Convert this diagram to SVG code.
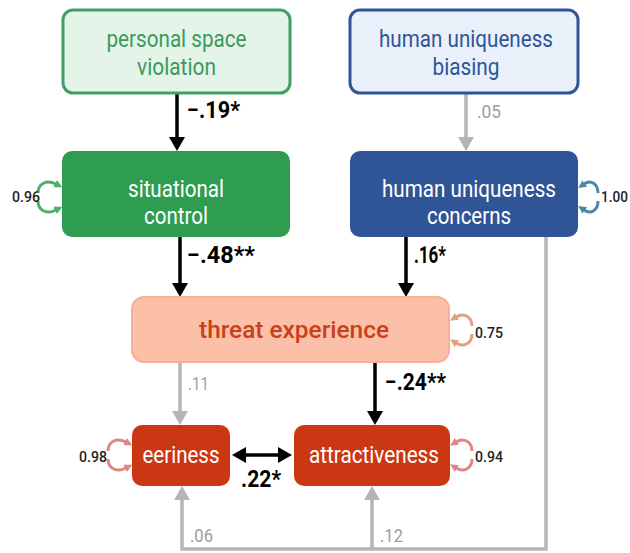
<svg xmlns="http://www.w3.org/2000/svg" width="630" height="553" viewBox="0 0 630 553">
<style>
.t{font-family:Roboto,"Liberation Sans",sans-serif;font-size:23px;text-anchor:middle}
.w{fill:#fff}
.lb{font-family:Roboto,"Liberation Sans",sans-serif;font-size:23px;font-weight:bold;fill:#000}
.lg{font-family:Roboto,"Liberation Sans",sans-serif;font-size:19px;fill:#9e9e9e}
.v{font-family:Roboto,"Liberation Sans",sans-serif;font-size:15px;font-weight:500;fill:#222}
.k{fill:none;stroke:#000;stroke-width:3.5}
.g{fill:none;stroke:#b5b5b5;stroke-width:3.5}
.lp{fill:none;stroke-width:3}
</style>
<defs>
<marker id="ak" viewBox="0 0 14 16" refX="0" refY="8" markerWidth="14" markerHeight="16" markerUnits="userSpaceOnUse" orient="auto-start-reverse"><path d="M0,0 L14,8 L0,16 z" fill="#000"/></marker>
<marker id="ag" viewBox="0 0 14 16" refX="0" refY="8" markerWidth="14" markerHeight="16" markerUnits="userSpaceOnUse" orient="auto"><path d="M0,0 L14,8 L0,16 z" fill="#b5b5b5"/></marker>
<marker id="mgr" viewBox="0 0 8 8" refX="1" refY="4" markerWidth="8" markerHeight="8" markerUnits="userSpaceOnUse" orient="auto"><path d="M0,0 L8,4 L0,8 z" fill="#4caf6a"/></marker>
<marker id="mbl" viewBox="0 0 8 8" refX="1" refY="4" markerWidth="8" markerHeight="8" markerUnits="userSpaceOnUse" orient="auto"><path d="M0,0 L8,4 L0,8 z" fill="#4a87a8"/></marker>
<marker id="msa" viewBox="0 0 8 8" refX="1" refY="4" markerWidth="8" markerHeight="8" markerUnits="userSpaceOnUse" orient="auto"><path d="M0,0 L8,4 L0,8 z" fill="#e2a07e"/></marker>
<marker id="mpk" viewBox="0 0 8 8" refX="1" refY="4" markerWidth="8" markerHeight="8" markerUnits="userSpaceOnUse" orient="auto"><path d="M0,0 L8,4 L0,8 z" fill="#df8684"/></marker>
</defs>

<g id="connectors">
<path class="k" d="M177,93 V137" marker-end="url(#ak)"/>
<path class="g" d="M466,93 V137" marker-end="url(#ag)"/>
<path class="k" d="M180,237 V283" marker-end="url(#ak)"/>
<path class="k" d="M406,237 V283" marker-end="url(#ak)"/>
<path class="g" d="M180,362 V411" marker-end="url(#ag)"/>
<path class="k" d="M375,362 V411" marker-end="url(#ak)"/>
<path class="k" d="M246,455 H278" marker-start="url(#ak)" marker-end="url(#ak)"/>
<path class="g" d="M546,237 V549 H182 V500" marker-end="url(#ag)"/>
<path class="g" d="M372,549 V500" marker-end="url(#ag)"/>
<text class="lb" x="187" y="118" textLength="53" lengthAdjust="spacingAndGlyphs">−.19*</text>
<text class="lg" x="477" y="118" textLength="24" lengthAdjust="spacingAndGlyphs">.05</text>
<text class="lb" x="187" y="263" textLength="68" lengthAdjust="spacingAndGlyphs">−.48**</text>
<text class="lb" x="414" y="263" textLength="32" lengthAdjust="spacingAndGlyphs">.16*</text>
<text class="lg" x="188" y="390" textLength="21" lengthAdjust="spacingAndGlyphs">.11</text>
<text class="lb" x="385" y="390" textLength="61" lengthAdjust="spacingAndGlyphs">−.24**</text>
<text class="lb" x="241" y="487" textLength="40" lengthAdjust="spacingAndGlyphs">.22*</text>
<text class="lg" x="190" y="542" textLength="23" lengthAdjust="spacingAndGlyphs">.06</text>
<text class="lg" x="380" y="542" textLength="23" lengthAdjust="spacingAndGlyphs">.12</text>
</g>

<g id="personal-space-violation">
<rect x="63" y="10" width="227" height="83" rx="10" fill="#e5f4e9" stroke="#3fa061" stroke-width="3"/>
<text class="t" x="176.5" y="47" fill="#3a9a5a" textLength="140" lengthAdjust="spacingAndGlyphs">personal space</text>
<text class="t" x="176.5" y="75" fill="#3a9a5a" textLength="79" lengthAdjust="spacingAndGlyphs">violation</text>
</g>

<g id="human-uniqueness-biasing">
<rect x="350" y="10" width="228" height="83" rx="10" fill="#eaf0fa" stroke="#2f5597" stroke-width="3"/>
<text class="t" x="466" y="47" fill="#2f5597" textLength="174" lengthAdjust="spacingAndGlyphs">human uniqueness</text>
<text class="t" x="466" y="75" fill="#2f5597" textLength="67" lengthAdjust="spacingAndGlyphs">biasing</text>
</g>

<g id="situational-control">
<rect x="62" y="151" width="228" height="86" rx="10" fill="#2f9d50"/>
<text class="t w" x="176" y="197" textLength="96" lengthAdjust="spacingAndGlyphs">situational</text>
<text class="t w" x="176" y="224" textLength="64" lengthAdjust="spacingAndGlyphs">control</text>
<path class="lp" stroke="#4caf6a" d="M38,193 C38,184 46,179 56,184" marker-end="url(#mgr)"/>
<path class="lp" stroke="#4caf6a" d="M38,201 C38,210 46,215 56,210" marker-end="url(#mgr)"/>
<text class="v" x="12" y="202" textLength="28" lengthAdjust="spacingAndGlyphs">0.96</text>
</g>

<g id="human-uniqueness-concerns">
<rect x="350" y="151" width="228" height="86" rx="10" fill="#2f5597"/>
<text class="t w" x="469" y="197" textLength="174" lengthAdjust="spacingAndGlyphs">human uniqueness</text>
<text class="t w" x="469" y="224" textLength="84" lengthAdjust="spacingAndGlyphs">concerns</text>
<path class="lp" stroke="#4a87a8" d="M598,193 C598,184 591,179 584,184" marker-end="url(#mbl)"/>
<path class="lp" stroke="#4a87a8" d="M598,201 C598,210 591,215 584,210" marker-end="url(#mbl)"/>
<text class="v" x="601" y="202" textLength="27" lengthAdjust="spacingAndGlyphs">1.00</text>
</g>

<g id="threat-experience">
<rect x="132" y="297" width="317" height="65" rx="12" fill="#fbc0a7" stroke="#f6b096" stroke-width="2"/>
<text class="t" x="294" y="338" fill="#c8401c" font-size="26" font-weight="500" textLength="190" lengthAdjust="spacingAndGlyphs">threat experience</text>
<path class="lp" stroke="#e2a07e" d="M472,326 C472,317 464,312 456,317" marker-end="url(#msa)"/>
<path class="lp" stroke="#e2a07e" d="M472,334 C472,343 464,348 456,343" marker-end="url(#msa)"/>
<text class="v" x="475" y="338" textLength="28" lengthAdjust="spacingAndGlyphs">0.75</text>
</g>

<g id="eeriness">
<rect x="132" y="425" width="98" height="61" rx="10" fill="#cc3713"/>
<text class="t w" x="181" y="463" textLength="77" lengthAdjust="spacingAndGlyphs">eeriness</text>
<path class="lp" stroke="#df8684" d="M108,451 C108,442 116,437 126,442" marker-end="url(#mpk)"/>
<path class="lp" stroke="#df8684" d="M108,459 C108,468 116,473 126,468" marker-end="url(#mpk)"/>
<text class="v" x="79" y="462" textLength="28" lengthAdjust="spacingAndGlyphs">0.98</text>
</g>

<g id="attractiveness">
<rect x="294" y="425" width="156" height="61" rx="10" fill="#cc3713"/>
<text class="t w" x="374" y="463" textLength="130" lengthAdjust="spacingAndGlyphs">attractiveness</text>
<path class="lp" stroke="#df8684" d="M472,451 C472,442 464,437 456,442" marker-end="url(#mpk)"/>
<path class="lp" stroke="#df8684" d="M472,459 C472,468 464,473 456,468" marker-end="url(#mpk)"/>
<text class="v" x="475" y="462" textLength="28" lengthAdjust="spacingAndGlyphs">0.94</text>
</g>
</svg>
